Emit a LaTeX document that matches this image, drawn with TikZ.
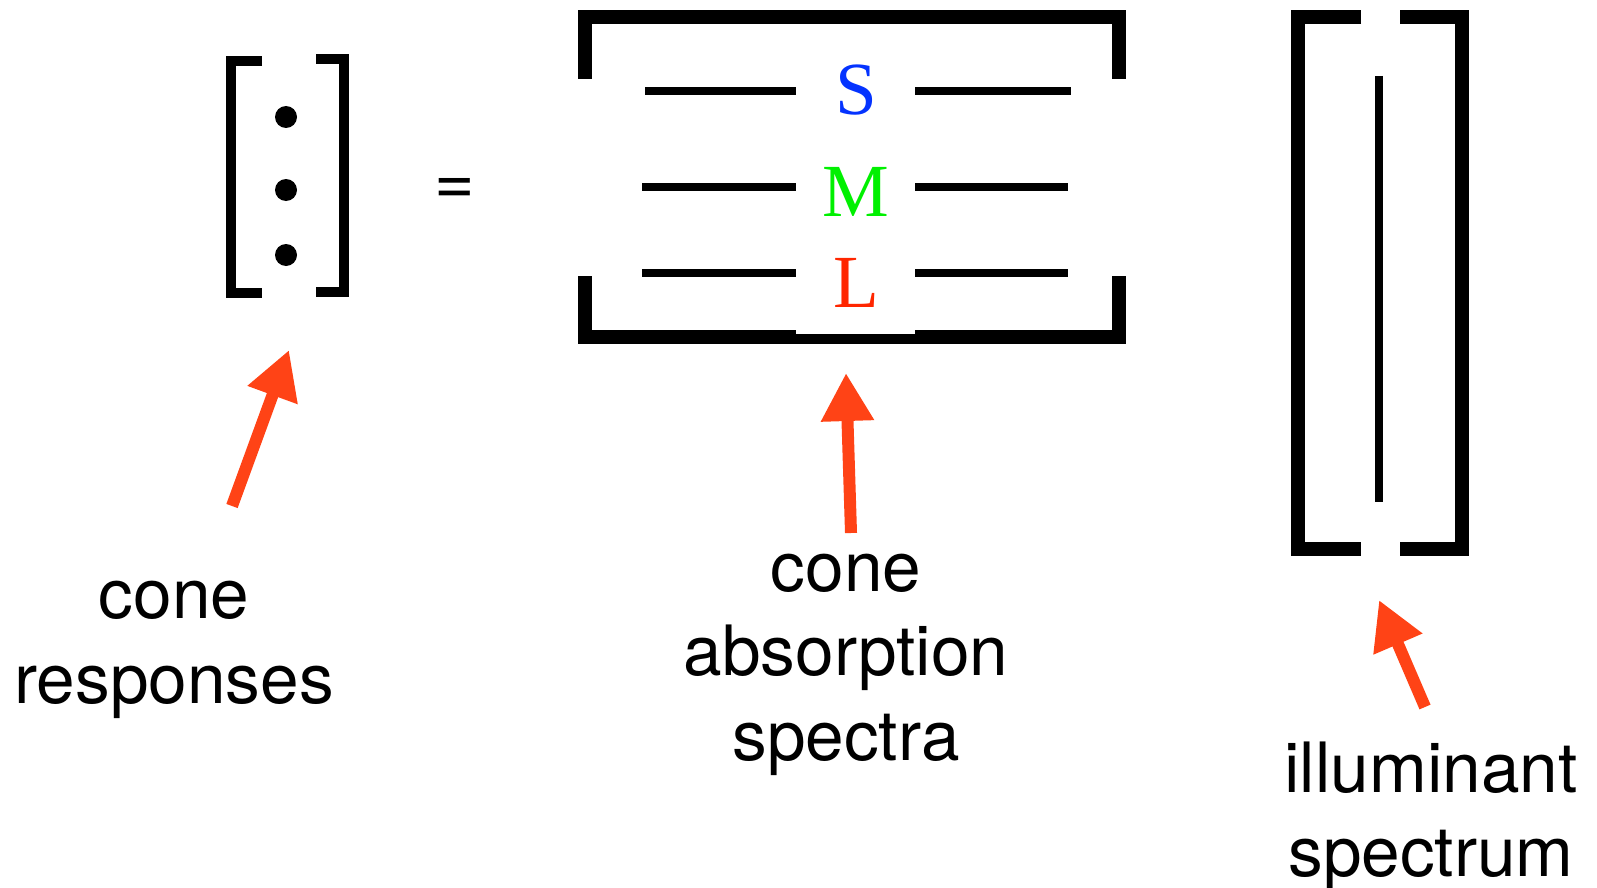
\documentclass[tikz,border=0pt]{standalone}
\usepackage{fontspec}
\setmainfont{TeX Gyre Heros}
\newfontfamily\letterfont{Liberation Serif}
\usetikzlibrary{arrows.meta}
\definecolor{arrowred}{HTML}{FF4316}
\definecolor{sblue}{HTML}{0433FF}
\definecolor{mgreen}{HTML}{00F000}
\definecolor{lred}{HTML}{FF2600}
\tikzset{
  bigbracket/.style={line width=14pt, line join=miter},
  smallbracket/.style={line width=10pt, line join=miter},
  specline/.style={line width=8pt},
  pointer/.style={draw=arrowred, line width=12pt, -{Triangle[length=48pt,width=50pt]}},
  label/.style={font=\fontsize{69.4}{84}\selectfont, anchor=base, inner sep=0pt},
  cone/.style={font=\fontsize{75}{80}\letterfont, anchor=base, inner sep=0pt},
}
\begin{document}
\begin{tikzpicture}[x=1pt,y=-1pt]
\useasboundingbox (0,0) rectangle (1597,888);
% cone responses vector
\draw[smallbracket] (262,61) -- (231,61) -- (231,293) -- (262,293);
\draw[smallbracket] (316,59) -- (344,59) -- (344,292) -- (316,292);
\fill (286,117) circle (11);
\fill (286,190) circle (11);
\fill (286,255) circle (11);
% equals
\node[label] (eq) at (455,204) {=};
% absorption matrix
\draw[bigbracket] (585,79) -- (585,17) -- (1119,17) -- (1119,79);
\draw[bigbracket] (585,276) -- (585,337) -- (1119,337) -- (1119,276);
\fill[white] (796,330) rectangle (915,334);
\draw[specline] (645,91) -- (796,91);
\draw[specline] (915,91) -- (1071,91);
\draw[specline] (642,187) -- (796,187);
\draw[specline] (915,187) -- (1068,187);
\draw[specline] (642,273) -- (796,273);
\draw[specline] (915,273) -- (1068,273);
\node[cone, text=sblue] (S) at (856,114) {S};
\node[cone, text=mgreen] (M) at (856,216) {M};
\node[cone, text=lred] (L) at (856,307) {L};
% illuminant vector
\draw[bigbracket] (1361,17) -- (1298,17) -- (1298,549) -- (1361,549);
\draw[bigbracket] (1400,17) -- (1462,17) -- (1462,549) -- (1400,549);
\draw[specline] (1379,76) -- (1379,502);
% labels
\node[label] (cr1) at (174,618) {cone};
\node[label] (cr2) at (174,703) {responses};
\node[label] (ca1) at (846,591) {cone};
\node[label] (ca2) at (846,675) {absorption};
\node[label] (ca3) at (846,760) {spectra};
\node[label] (il1) at (1431,792) {illuminant};
\node[label] (il2) at (1431,876) {spectrum};
% arrows
\coordinate (t1) at (232,506);
\coordinate (h1) at (289,350);
\coordinate (t2) at (851,533);
\coordinate (h2) at (846,373);
\coordinate (t3) at (1425,707);
\coordinate (h3) at (1379,600);
\draw[pointer] (t1) -- (h1);
\draw[pointer] (t2) -- (h2);
\draw[pointer] (t3) -- (h3);
\end{tikzpicture}
\end{document}
